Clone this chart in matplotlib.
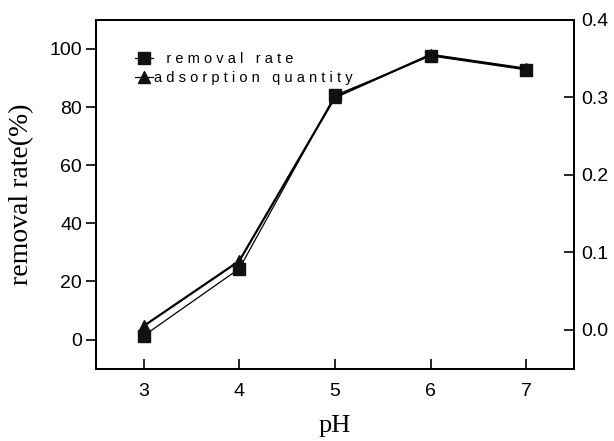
import numpy as np
import matplotlib
matplotlib.use("Agg")
import matplotlib.pyplot as plt
from matplotlib.lines import Line2D

# data
ph = [3, 4, 5, 6, 7]
removal_rate = [1.3, 24.4, 84.0, 97.6, 92.8]          # %
adsorption_qty = [0.005, 0.089, 0.300, 0.355, 0.337]  # right axis

plt.rcParams['font.family'] = ['Liberation Sans', 'DejaVu Sans']

fig = plt.figure(figsize=(6.14, 4.41), dpi=100)
ax = fig.add_axes([0.156, 0.164, 0.779, 0.791])
ax2 = ax.twinx()

ax.plot(ph, removal_rate, color='black', lw=0.9, marker='s', ms=8.5,
        mfc='#111111', mec='#111111')
ax2.plot(ph, adsorption_qty, color='black', lw=1.6, marker='^', ms=8.5,
         mfc='#111111', mec='#111111')

ax.set_xlim(2.5, 7.5)
ax.set_ylim(-10, 110)
ax2.set_ylim(-0.05, 0.4)
ax.set_xticks(ph)
ax.set_yticks([0, 20, 40, 60, 80, 100])
ax2.set_yticks([0.0, 0.1, 0.2, 0.3, 0.4])
ax2.set_yticklabels(['0.0', '0.1', '0.2', '0.3', '0.4'])

ax.tick_params(axis='y', direction='out', length=7, width=1.2, labelsize=14, pad=3)
ax.tick_params(axis='x', direction='in', length=7, width=1.2, labelsize=14, pad=10)
ax2.tick_params(axis='y', direction='in', length=7, width=1.2, labelsize=14, pad=5)
for a in (ax, ax2):
    for s in a.spines.values():
        s.set_linewidth(1.3)

ax.set_xlabel('pH', family='Liberation Serif', fontsize=19, labelpad=11)
ax.set_ylabel('removal rate(%)', family='Liberation Serif', fontsize=20, labelpad=11)

h1 = Line2D([], [], color='black', lw=0.9, marker='s', ms=8, mfc='#111111', mec='#111111')
h2 = Line2D([], [], color='black', lw=0.9, marker='^', ms=8, mfc='#111111', mec='#111111')
ax2.legend([h1, h2],
           ['   r e m o v a l   r a t e', 'a d s o r p t i o n   q u a n t i t y'],
           loc='upper left', bbox_to_anchor=(0.055, 0.945), frameon=False,
           handlelength=1.2, handletextpad=0.1, labelspacing=0.35, fontsize=10.5)

fig.savefig('out.png', dpi=100)
